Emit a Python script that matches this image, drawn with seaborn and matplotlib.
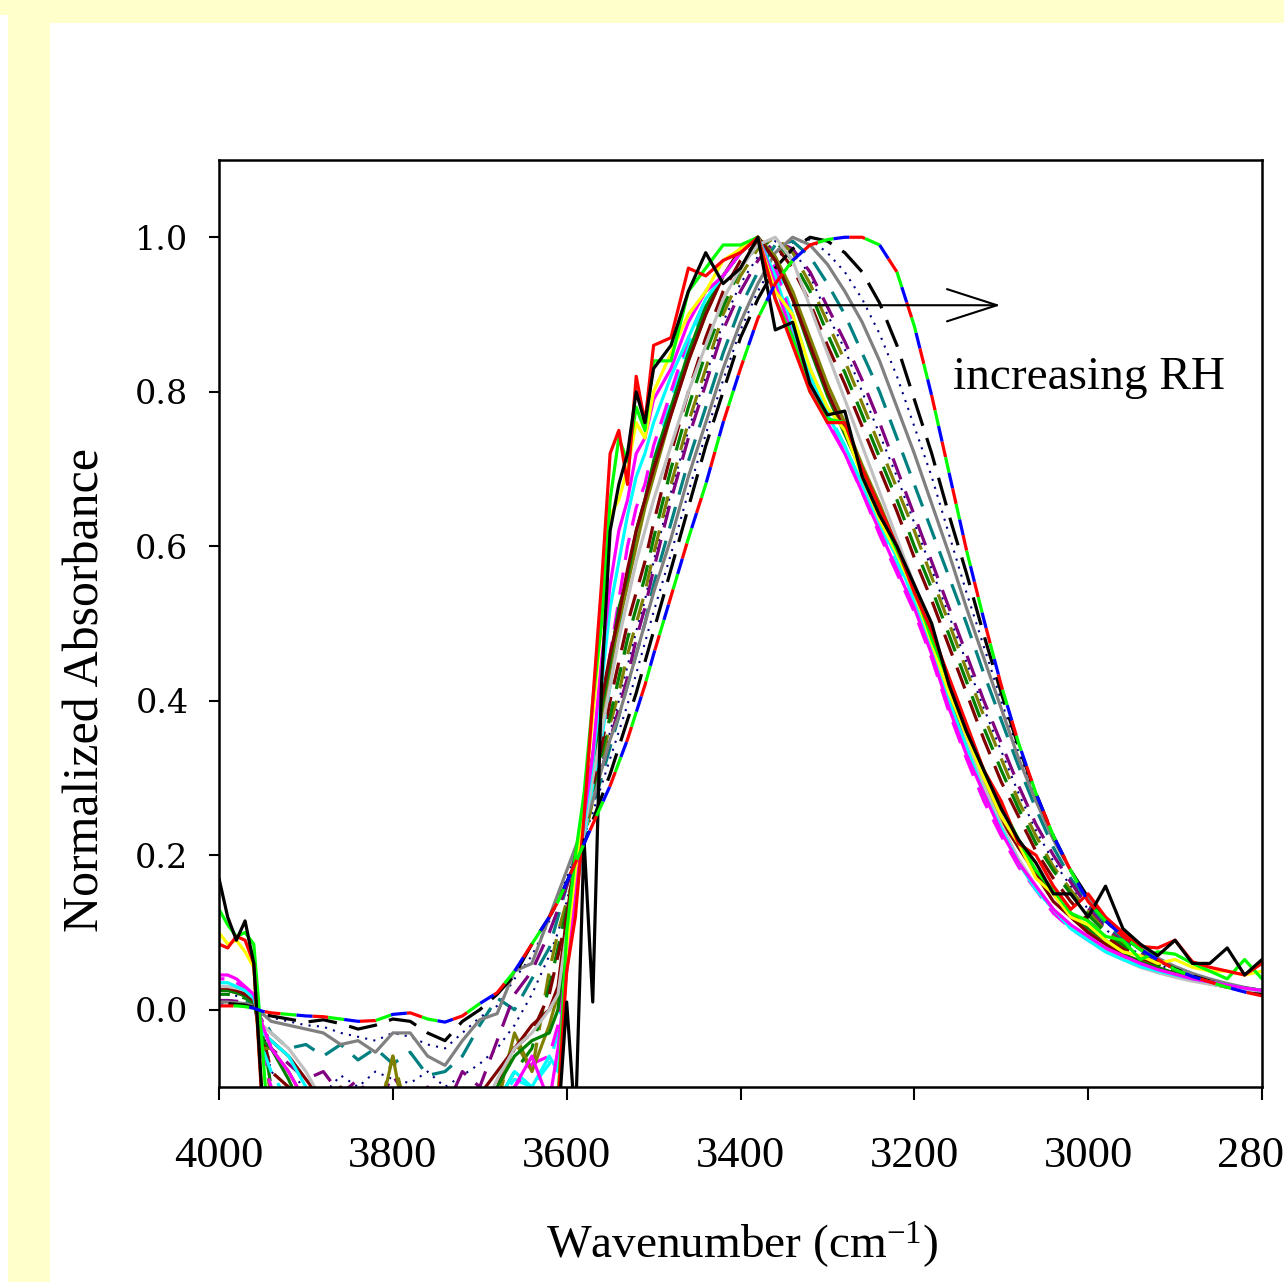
import matplotlib
matplotlib.use("Agg")
import matplotlib.pyplot as plt
from matplotlib.patches import Rectangle
import seaborn as sns

# wavenumber grid (cm-1), shared by every spectrum
wavenumber = [4000, 3990, 3980, 3970, 3960, 3950,
              3940, 3920, 3900, 3880, 3860, 3840, 3820, 3800, 3780, 3760, 3740, 3720, 3700, 3680, 3660, 3640, 3620,
              3610, 3600, 3590, 3580, 3570, 3560, 3550, 3540, 3530, 3520, 3510, 3500,
              3480, 3460, 3440, 3420, 3400, 3380, 3360, 3340, 3320, 3300,
              3280, 3260, 3240, 3220, 3200, 3180, 3160, 3140, 3120, 3100, 3080, 3060, 3040, 3020, 3000,
              2980, 2960, 2940, 2920, 2900, 2880, 2860, 2840, 2820, 2800]

# normalized absorbance (lowest RH first)
black_solid = [0.17, 0.12, 0.09, 0.115, 0.06, -0.12,
               -0.3, -0.35, -0.28, -0.4, -0.32, -0.38, -0.3, -0.36, -0.33, -0.4, -0.3, -0.35, -0.28, -0.32, -0.25, -0.2, -0.18,
               -0.15, 0.01, -0.15, 0.22, 0.01, 0.42, 0.62, 0.68, 0.72, 0.80, 0.76, 0.83,
               0.86, 0.93, 0.98, 0.94, 0.96, 1.0, 0.88, 0.89, 0.81, 0.77,
               0.775, 0.69, 0.64, 0.60, 0.55, 0.50, 0.42, 0.36, 0.31, 0.26, 0.22, 0.19, 0.15, 0.15, 0.12,
               0.16, 0.105, 0.085, 0.07, 0.09, 0.06, 0.06, 0.08, 0.045, 0.065]
red_solid = [0.085, 0.08, 0.095, 0.09, 0.06, -0.13,
             -0.25, -0.3, -0.22, -0.35, -0.28, -0.33, -0.26, -0.3, -0.27, -0.34, -0.26, -0.3, -0.24, -0.28, -0.2, -0.16, -0.14,
             -0.12, 0.05, 0.12, 0.25, 0.40, 0.55, 0.72, 0.75, 0.68, 0.82, 0.76, 0.86,
             0.87, 0.96, 0.95, 0.97, 0.98, 1.0, 0.92, 0.86, 0.80, 0.76,
             0.76, 0.70, 0.65, 0.60, 0.54, 0.49, 0.43, 0.37, 0.31, 0.27, 0.215, 0.2, 0.16, 0.13, 0.15,
             0.12, 0.1, 0.082, 0.08, 0.09, 0.062, 0.055, 0.05, 0.045, 0.06]
lime_solid = [0.13, 0.11, 0.095, 0.10, 0.085, -0.05,
              -0.2, -0.26, -0.18, -0.3, -0.24, -0.3, -0.22, -0.27, -0.24, -0.3, -0.22, -0.27, -0.2, -0.24, -0.17, -0.13, -0.15,
              -0.12, 0.1, 0.2, 0.28, 0.4, 0.5, 0.66, 0.74, 0.71, 0.78, 0.75, 0.84,
              0.84, 0.93, 0.96, 0.99, 0.99, 1.0, 0.92, 0.87, 0.80, 0.765,
              0.76, 0.70, 0.645, 0.595, 0.545, 0.48, 0.425, 0.365, 0.31, 0.265, 0.22, 0.18, 0.155, 0.125, 0.115,
              0.095, 0.09, 0.065, 0.075, 0.072, 0.06, 0.05, 0.04, 0.065, 0.04]
yellow_solid = [0.10, 0.085, 0.09, 0.075, 0.055, -0.12,
                -0.22, -0.28, -0.2, -0.32, -0.26, -0.31, -0.24, -0.29, -0.25, -0.32, -0.24, -0.28, -0.22, -0.26, -0.18, -0.14, -0.16,
                -0.12, 0.08, 0.18, 0.27, 0.38, 0.50, 0.64, 0.66, 0.70, 0.76, 0.74, 0.80,
                0.85, 0.90, 0.93, 0.97, 0.985, 1.0, 0.93, 0.90, 0.83, 0.78,
                0.75, 0.69, 0.635, 0.59, 0.54, 0.475, 0.41, 0.355, 0.30, 0.25, 0.215, 0.17, 0.15, 0.12, 0.11,
                0.09, 0.075, 0.07, 0.06, 0.065, 0.055, 0.05, 0.05, 0.045, 0.05]
magenta_solid = [0.045, 0.045, 0.04, 0.03, 0.02, -0.02,
                 -0.05, -0.08, -0.12, -0.15, -0.2, -0.18, -0.22, -0.2, -0.25, -0.2, -0.22, -0.18, -0.2, -0.15, -0.1, -0.06, -0.12,
                 -0.05, 0.05, 0.15, 0.25, 0.33, 0.45, 0.55, 0.62, 0.66, 0.72, 0.74, 0.79,
                 0.83, 0.89, 0.93, 0.95, 0.98, 1.0, 0.94, 0.87, 0.81, 0.76,
                 0.72, 0.67, 0.62, 0.57, 0.52, 0.46, 0.39, 0.33, 0.28, 0.23, 0.19, 0.16, 0.13, 0.11, 0.095,
                 0.08, 0.07, 0.06, 0.052, 0.046, 0.04, 0.036, 0.032, 0.028, 0.025]
cyan_solid = [0.035, 0.035, 0.03, 0.025, 0.015, -0.03,
              -0.04, -0.06, -0.1, -0.14, -0.18, -0.15, -0.2, -0.17, -0.22, -0.18, -0.2, -0.16, -0.18, -0.12, -0.08, -0.1, -0.06,
              -0.08, 0.05, 0.14, 0.24, 0.32, 0.42, 0.52, 0.58, 0.64, 0.69, 0.72, 0.76,
              0.82, 0.87, 0.92, 0.95, 0.98, 1.0, 0.95, 0.88, 0.82, 0.77,
              0.73, 0.68, 0.63, 0.585, 0.53, 0.47, 0.40, 0.34, 0.28, 0.235, 0.19, 0.155, 0.13, 0.105, 0.09,
              0.075, 0.065, 0.056, 0.05, 0.045, 0.04, 0.036, 0.032, 0.028, 0.025]
lightgray_solid = [0.03, 0.03, 0.028, 0.025, 0.015, -0.02,
                   -0.03, -0.05, -0.08, -0.12, -0.15, -0.13, -0.17, -0.14, -0.18, -0.15, -0.16, -0.12, -0.14, -0.09, -0.05, -0.03, 0.0,
                   0.02, 0.1, 0.16, 0.23, 0.3, 0.36, 0.42, 0.48, 0.53, 0.58, 0.62, 0.66,
                   0.73, 0.80, 0.86, 0.92, 0.96, 0.99, 1.0, 0.97, 0.91, 0.85,
                   0.79, 0.73, 0.67, 0.61, 0.55, 0.49, 0.42, 0.35, 0.29, 0.24, 0.195, 0.16, 0.13, 0.11, 0.09,
                   0.075, 0.065, 0.055, 0.048, 0.042, 0.037, 0.033, 0.03, 0.026, 0.024]
maroon_solid = [0.028, 0.028, 0.025, 0.02, 0.012, -0.03,
                -0.04, -0.06, -0.09, -0.12, -0.1, -0.14, -0.12, -0.16, -0.13, -0.15, -0.12, -0.14, -0.11, -0.08, -0.05, -0.02, 0.0,
                0.03, 0.12, 0.2, 0.26, 0.33, 0.40, 0.46, 0.51, 0.57, 0.62, 0.66, 0.70,
                0.77, 0.84, 0.90, 0.95, 0.985, 1.0, 0.97, 0.92, 0.86, 0.80,
                0.75, 0.70, 0.65, 0.60, 0.54, 0.48, 0.41, 0.34, 0.28, 0.245, 0.21, 0.175, 0.14, 0.12, 0.10,
                0.085, 0.07, 0.06, 0.052, 0.045, 0.04, 0.035, 0.031, 0.028, 0.025]
darkgreen_solid = [0.025, 0.025, 0.022, 0.018, 0.01, -0.04,
                   -0.05, -0.09, -0.14, -0.12, -0.16, -0.13, -0.17, -0.14, -0.16, -0.13, -0.15, -0.12, -0.13, -0.1, -0.06, -0.04, -0.03,
                   0.0, 0.1, 0.18, 0.25, 0.32, 0.39, 0.45, 0.52, 0.56, 0.62, 0.66, 0.71,
                   0.78, 0.85, 0.91, 0.95, 0.98, 1.0, 0.97, 0.92, 0.855, 0.795,
                   0.745, 0.695, 0.645, 0.595, 0.535, 0.475, 0.41, 0.35, 0.295, 0.245, 0.215, 0.175, 0.155, 0.125, 0.105,
                   0.09, 0.072, 0.062, 0.055, 0.047, 0.041, 0.036, 0.032, 0.028, 0.025]
olive_solid = [0.03, 0.028, 0.025, 0.02, 0.012, -0.05,
               -0.05, -0.08, -0.12, -0.2, -0.15, -0.2, -0.16, -0.06, -0.18, -0.2, -0.15, -0.18, -0.14, -0.12, -0.03, -0.08, -0.02,
               0.02, 0.1, 0.17, 0.24, 0.31, 0.37, 0.44, 0.5, 0.55, 0.6, 0.65, 0.69,
               0.77, 0.84, 0.9, 0.95, 0.98, 1.0, 0.975, 0.93, 0.87, 0.81,
               0.76, 0.705, 0.655, 0.6, 0.545, 0.485, 0.42, 0.36, 0.30, 0.25, 0.21, 0.18, 0.15, 0.12, 0.1,
               0.085, 0.072, 0.063, 0.054, 0.047, 0.041, 0.036, 0.032, 0.028, 0.025]
magenta_dashed = [0.04, 0.04, 0.035, 0.028, 0.016, -0.06,
                  -0.1, -0.14, -0.18, -0.15, -0.2, -0.17, -0.2, -0.16, -0.2, -0.18, -0.2, -0.16, -0.19, -0.14, -0.1, -0.07, -0.06,
                  -0.02, 0.07, 0.15, 0.23, 0.31, 0.38, 0.46, 0.53, 0.6, 0.65, 0.68, 0.73,
                  0.8, 0.87, 0.92, 0.95, 0.98, 1.0, 0.96, 0.89, 0.82, 0.765,
                  0.72, 0.67, 0.615, 0.565, 0.515, 0.455, 0.385, 0.325, 0.27, 0.225, 0.185, 0.155, 0.125, 0.105, 0.09,
                  0.077, 0.067, 0.058, 0.05, 0.044, 0.039, 0.034, 0.03, 0.027, 0.024]
cyan_dashed = [0.03, 0.03, 0.028, 0.022, 0.013, -0.05,
               -0.08, -0.12, -0.16, -0.14, -0.18, -0.15, -0.19, -0.15, -0.19, -0.17, -0.19, -0.15, -0.17, -0.12, -0.09, -0.1, -0.07,
               -0.03, 0.06, 0.14, 0.22, 0.29, 0.35, 0.42, 0.49, 0.56, 0.62, 0.66, 0.71,
               0.79, 0.86, 0.91, 0.95, 0.98, 1.0, 0.965, 0.9, 0.83, 0.775,
               0.73, 0.68, 0.625, 0.575, 0.52, 0.46, 0.39, 0.33, 0.275, 0.23, 0.19, 0.158, 0.128, 0.106, 0.09,
               0.076, 0.066, 0.057, 0.05, 0.044, 0.039, 0.034, 0.03, 0.027, 0.024]
maroon_dashed = [0.028, 0.027, 0.025, 0.02, 0.012, -0.03,
                 -0.08, -0.1, -0.14, -0.12, -0.16, -0.13, -0.17, -0.13, -0.16, -0.14, -0.16, -0.13, -0.15, -0.1, -0.05, -0.03, 0.02,
                 0.07, 0.12, 0.17, 0.23, 0.29, 0.34, 0.40, 0.45, 0.50, 0.54, 0.58, 0.63,
                 0.72, 0.80, 0.87, 0.93, 0.97, 0.995, 0.99, 0.96, 0.915, 0.86,
                 0.81, 0.755, 0.70, 0.645, 0.585, 0.53, 0.47, 0.41, 0.35, 0.295, 0.25, 0.205, 0.17, 0.14, 0.115,
                 0.095, 0.079, 0.066, 0.055, 0.046, 0.039, 0.034, 0.029, 0.025, 0.022]
darkgreen_dashed = [0.02, 0.02, 0.018, 0.015, 0.008, -0.03,
                    -0.1, -0.13, -0.17, -0.14, -0.18, -0.15, -0.19, -0.12, -0.18, -0.15, -0.18, -0.14, -0.16, -0.12, -0.08, -0.05, 0.03,
                    0.08, 0.13, 0.18, 0.23, 0.28, 0.33, 0.38, 0.43, 0.48, 0.52, 0.56, 0.61,
                    0.70, 0.78, 0.85, 0.91, 0.96, 0.99, 0.995, 0.97, 0.93, 0.875,
                    0.825, 0.77, 0.715, 0.66, 0.60, 0.545, 0.485, 0.425, 0.365, 0.31, 0.26, 0.215, 0.18, 0.15, 0.123,
                    0.1, 0.083, 0.069, 0.057, 0.048, 0.041, 0.035, 0.03, 0.026, 0.022]
olive_dashed = [0.025, 0.025, 0.022, 0.018, 0.01, -0.02,
                -0.12, -0.15, -0.2, -0.18, -0.2, -0.22, -0.15, -0.06, -0.15, -0.2, -0.18, -0.2, -0.15, -0.12, -0.04, -0.08, 0.05,
                0.1, 0.14, 0.18, 0.22, 0.27, 0.32, 0.37, 0.41, 0.46, 0.5, 0.54, 0.59,
                0.68, 0.76, 0.83, 0.90, 0.95, 0.985, 1.0, 0.98, 0.94, 0.89,
                0.84, 0.785, 0.73, 0.675, 0.62, 0.56, 0.50, 0.44, 0.38, 0.325, 0.27, 0.225, 0.185, 0.155, 0.127,
                0.102, 0.085, 0.07, 0.058, 0.049, 0.041, 0.035, 0.03, 0.026, 0.023]
navy_dotted_a = [0.02, 0.02, 0.018, 0.015, 0.008, -0.02,
                 -0.08, -0.1, -0.09, -0.11, -0.085, -0.1, -0.08, -0.09, -0.095, -0.08, -0.1, -0.085, -0.07, -0.05, -0.02, 0.02, 0.07,
                 0.1, 0.14, 0.185, 0.225, 0.27, 0.315, 0.36, 0.4, 0.445, 0.49, 0.53, 0.58,
                 0.67, 0.75, 0.82, 0.89, 0.94, 0.975, 0.995, 0.985, 0.95, 0.9,
                 0.855, 0.8, 0.745, 0.69, 0.63, 0.57, 0.51, 0.45, 0.39, 0.335, 0.28, 0.232, 0.192, 0.16, 0.13,
                 0.104, 0.086, 0.071, 0.059, 0.05, 0.042, 0.036, 0.031, 0.027, 0.023]
purple_dashed = [0.012, 0.012, 0.011, 0.01, 0.006, -0.015,
                 -0.05, -0.07, -0.09, -0.08, -0.11, -0.09, -0.13, -0.085, -0.12, -0.1, -0.13, -0.08, -0.1, -0.04, 0.02, 0.05, 0.1,
                 0.13, 0.16, 0.195, 0.23, 0.27, 0.31, 0.35, 0.39, 0.43, 0.48, 0.52, 0.57,
                 0.66, 0.74, 0.81, 0.88, 0.93, 0.97, 0.995, 0.985, 0.955, 0.91,
                 0.865, 0.815, 0.76, 0.70, 0.64, 0.58, 0.52, 0.46, 0.40, 0.345, 0.29, 0.24, 0.2, 0.165, 0.132,
                 0.105, 0.087, 0.072, 0.06, 0.05, 0.042, 0.036, 0.031, 0.027, 0.023]
teal_dashed = [0.01, 0.012, 0.01, 0.01, 0.005, -0.01,
               -0.03, -0.05, -0.045, -0.06, -0.045, -0.065, -0.05, -0.07, -0.055, -0.085, -0.08, -0.06, -0.02, 0.015, 0.0, 0.04, 0.08,
               0.12, 0.16, 0.2, 0.235, 0.265, 0.3, 0.34, 0.38, 0.42, 0.46, 0.5, 0.55,
               0.63, 0.71, 0.78, 0.85, 0.91, 0.955, 0.99, 0.995, 0.975, 0.94,
               0.90, 0.85, 0.80, 0.74, 0.68, 0.62, 0.56, 0.5, 0.435, 0.375, 0.315, 0.26, 0.21, 0.17, 0.137,
               0.11, 0.09, 0.074, 0.061, 0.051, 0.043, 0.037, 0.031, 0.026, 0.022]
navy_dotted_b = [0.008, 0.008, 0.008, 0.007, 0.004, -0.004,
                 -0.01, -0.015, -0.02, -0.022, -0.03, -0.035, -0.04, -0.03, -0.035, -0.045, -0.05, -0.03, -0.01, 0.005, 0.04, 0.07, 0.115,
                 0.145, 0.17, 0.2, 0.225, 0.255, 0.29, 0.325, 0.36, 0.395, 0.435, 0.475, 0.515,
                 0.59, 0.67, 0.745, 0.815, 0.88, 0.93, 0.97, 0.993, 0.997, 0.98,
                 0.955, 0.92, 0.875, 0.82, 0.755, 0.69, 0.615, 0.54, 0.47, 0.4, 0.333, 0.275, 0.222, 0.18, 0.145,
                 0.116, 0.096, 0.079, 0.065, 0.054, 0.045, 0.038, 0.032, 0.027, 0.023]
gray_solid = [0.01, 0.01, 0.009, 0.008, 0.005, -0.005,
              -0.015, -0.02, -0.025, -0.03, -0.045, -0.04, -0.055, -0.03, -0.03, -0.06, -0.072, -0.04, -0.013, -0.005, 0.05, 0.06, 0.12,
              0.15, 0.18, 0.21, 0.24, 0.27, 0.31, 0.35, 0.38, 0.42, 0.46, 0.50, 0.54,
              0.61, 0.69, 0.76, 0.83, 0.89, 0.94, 0.98, 1.0, 0.99, 0.965,
              0.93, 0.89, 0.84, 0.78, 0.72, 0.655, 0.59, 0.52, 0.455, 0.39, 0.325, 0.27, 0.22, 0.18, 0.145,
              0.117, 0.097, 0.08, 0.067, 0.056, 0.047, 0.04, 0.034, 0.029, 0.025]
black_dashed = [0.008, 0.008, 0.007, 0.006, 0.003, -0.003,
                -0.008, -0.012, -0.016, -0.013, -0.018, -0.025, -0.02, -0.012, -0.015, -0.03, -0.04, -0.015, 0.0, 0.02, 0.045, 0.085, 0.12,
                0.14, 0.165, 0.19, 0.215, 0.245, 0.275, 0.305, 0.34, 0.375, 0.41, 0.45, 0.49,
                0.57, 0.65, 0.73, 0.80, 0.87, 0.92, 0.96, 0.985, 1.0, 0.995,
                0.98, 0.955, 0.915, 0.86, 0.79, 0.72, 0.64, 0.565, 0.485, 0.41, 0.34, 0.28, 0.225, 0.18, 0.145,
                0.115, 0.095, 0.078, 0.064, 0.053, 0.044, 0.037, 0.031, 0.026, 0.022]
final_rh = [0.005, 0.005, 0.005, 0.004, 0.002, -0.002,
            -0.004, -0.006, -0.008, -0.009, -0.012, -0.015, -0.014, -0.006, -0.004, -0.012, -0.016, -0.008, 0.008, 0.022, 0.05, 0.085, 0.12,
            0.14, 0.165, 0.19, 0.215, 0.24, 0.265, 0.29, 0.32, 0.35, 0.385, 0.42, 0.46,
            0.535, 0.61, 0.68, 0.76, 0.83, 0.895, 0.94, 0.97, 0.99, 0.997,
            1.0, 1.0, 0.99, 0.955, 0.885, 0.795, 0.695, 0.595, 0.505, 0.42, 0.345, 0.28, 0.225, 0.18, 0.14,
            0.115, 0.095, 0.078, 0.065, 0.052, 0.043, 0.036, 0.029, 0.023, 0.018]

x_ticks = [4000, 3800, 3600, 3400, 3200, 3000, 2800]
y_ticks = [0.0, 0.2, 0.4, 0.6, 0.8, 1.0]

long_dash = (0, (9, 4))
med_dash = (0, (7, 4))
dotted = (0, (1, 3))

# drawing order: smooth high-RH spectra underneath, noisy low-RH ones above, final on top
spectra = [
    (navy_dotted_a, "#000080", dotted, 1.5),
    (navy_dotted_b, "#000080", dotted, 1.5),
    (teal_dashed, "#008080", med_dash, 2.3),
    (purple_dashed, "#800080", med_dash, 2.3),
    (olive_dashed, "#808000", med_dash, 2.3),
    (darkgreen_dashed, "#008000", med_dash, 2.3),
    (maroon_dashed, "#800000", med_dash, 2.3),
    (cyan_dashed, "#00FFFF", med_dash, 2.3),
    (magenta_dashed, "#FF00FF", med_dash, 2.3),
    (gray_solid, "#808080", "-", 2.3),
    (black_dashed, "#000000", long_dash, 2.3),
    (olive_solid, "#808000", "-", 2.3),
    (darkgreen_solid, "#008000", "-", 2.3),
    (maroon_solid, "#800000", "-", 2.3),
    (lightgray_solid, "#C0C0C0", "-", 2.3),
    (cyan_solid, "#00FFFF", "-", 2.3),
    (magenta_solid, "#FF00FF", "-", 2.3),
    (yellow_solid, "#FFFF00", "-", 2.3),
    (lime_solid, "#00FF00", "-", 2.3),
    (red_solid, "#FF0000", "-", 2.3),
    (black_solid, "#000000", "-", 2.3),
    (final_rh, "#FF0000", (0, (5, 10)), 2.3),
    (final_rh, "#00FF00", (5, (5, 10)), 2.3),
    (final_rh, "#0000FF", (10, (5, 10)), 2.3),
]

sns.set_style("ticks")
plt.rcParams["font.family"] = ["Liberation Serif", "DejaVu Serif"]
plt.rcParams["mathtext.default"] = "regular"

fig = plt.figure(figsize=(12.84, 12.82), dpi=100, facecolor="#FFFFCC")
fig.patches.append(Rectangle((50 / 1284, 0), 1 - 50 / 1284, 1 - 23 / 1282,
                             transform=fig.transFigure, facecolor="white", edgecolor="none", zorder=-1))
fig.patches.append(Rectangle((0, 0), 8 / 1284, 1 - 15 / 1282,
                             transform=fig.transFigure, facecolor="white", edgecolor="none", zorder=-1))

ax = fig.add_axes([219 / 1284, 1 - 1087 / 1282, 1043 / 1284, 927 / 1282])
ax.set_facecolor("white")

for values, color, style, width in spectra:
    sns.lineplot(x=wavenumber, y=values, color=color, linestyle=style, linewidth=width,
                 estimator=None, errorbar=None, ax=ax)

ax.set_xlim(4000, 2800)
ax.set_ylim(-0.1, 1.1)
ax.set_xticks(x_ticks)
ax.set_yticks(y_ticks)
ax.set_xticklabels([str(t) for t in x_ticks])
ax.set_yticklabels([f"{t:.1f}" for t in y_ticks])

for side in ["top", "bottom", "left", "right"]:
    ax.spines[side].set_visible(True)
    ax.spines[side].set_color("black")
    ax.spines[side].set_linewidth(1.8)

ax.tick_params(axis="x", direction="out", length=9, width=1.5, pad=26, labelsize=32, colors="black")
ax.tick_params(axis="y", direction="out", length=7, width=1.5, pad=15, labelsize=24, colors="black")
for lbl in ax.get_yticklabels():
    lbl.set_fontfamily("DejaVu Serif")

ax.set_xlabel("Wavenumber (cm$^{\\mathregular{-1}}$)", fontsize=34, color="black")
ax.set_ylabel("Normalized Absorbance", fontsize=36, color="black")
ax.xaxis.set_label_coords(0.5014, -0.142)
ax.yaxis.set_label_coords(-0.105, 0.428)

ax.annotate("", xy=(3101, 0.912), xytext=(3340, 0.912),
            arrowprops=dict(arrowstyle="->,head_length=1.8,head_width=0.58", lw=1.5,
                            color="black", shrinkA=0, shrinkB=0, mutation_scale=20))
ax.text(3155, 0.803, "increasing RH", fontsize=34, ha="left", va="baseline", color="black")

fig.savefig("out.png", dpi=100, facecolor=fig.get_facecolor())
